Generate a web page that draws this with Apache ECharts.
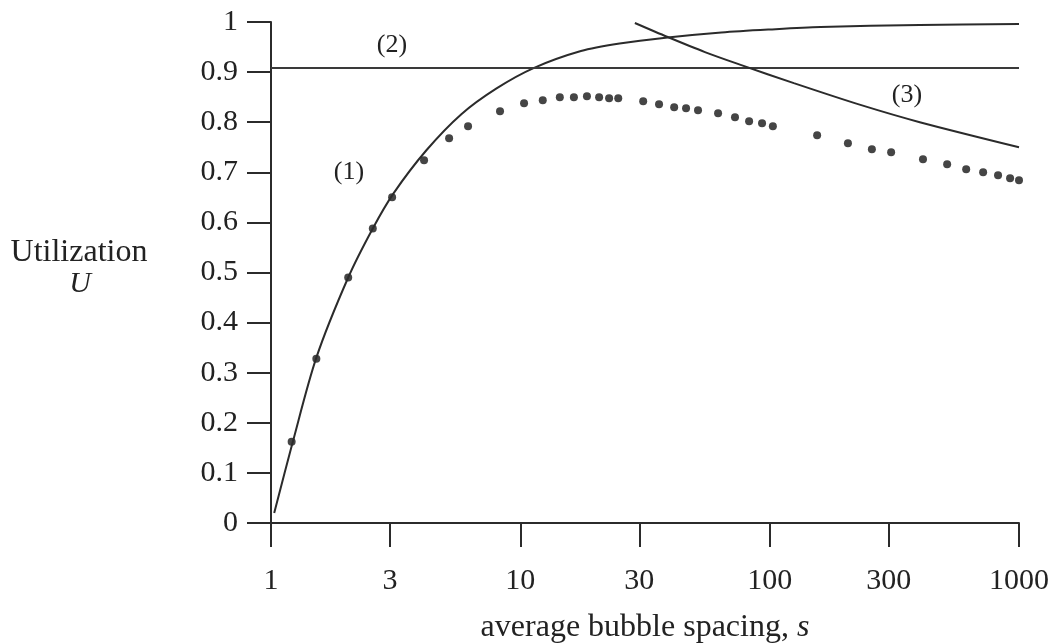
<!DOCTYPE html>
<html>
<head>
<meta charset="utf-8">
<script src="https://cdn.jsdelivr.net/npm/echarts@6/dist/echarts.min.js"></script>
<style>
  html, body { margin: 0; padding: 0; background: #fff; }
  #chart { width: 1055px; height: 644px; }
</style>
</head>
<body>
<div id="chart"></div>
<script>
// tick positions on the log axis
var xTicks = [1, 3, 10, 30, 100, 300, 1000]

// curve (1)
var curve1 = [[1.03, 0.02], [1.22, 0.16], [1.52, 0.33], [2.04, 0.49], [2.56, 0.588], [3.1, 0.658],
  [4.2, 0.744], [5.8, 0.816], [8, 0.867], [11.3, 0.908], [17.5, 0.942], [25, 0.957], [39, 0.969],
  [64, 0.979], [100, 0.985], [160, 0.99], [400, 0.994], [1000, 0.996]]

// line (2)
var line2 = [[1, 0.908], [1000, 0.908]]

// curve (3)
var curve3 = [[28.8, 0.998], [39, 0.97], [55, 0.94], [77, 0.914], [125, 0.878],
  [233, 0.834], [400, 0.8], [1000, 0.75]]

// measured points
var dots = [[1.21, 0.162], [1.52, 0.328], [2.04, 0.49], [2.56, 0.588], [3.06, 0.65], [4.11, 0.724],
  [5.18, 0.768], [6.17, 0.792], [8.29, 0.822], [10.35, 0.838], [12.3, 0.844], [14.4, 0.85],
  [16.4, 0.85], [18.5, 0.852], [20.7, 0.85], [22.7, 0.848], [24.7, 0.848], [31.1, 0.842],
  [36, 0.836], [41.4, 0.83], [46.2, 0.828], [51.6, 0.824], [62.1, 0.818], [72.6, 0.81],
  [82.7, 0.802], [93.2, 0.798], [103, 0.792], [155, 0.774], [206, 0.758], [257, 0.746],
  [307, 0.74], [412, 0.726], [515, 0.716], [614, 0.706], [718, 0.7], [824, 0.694],
  [921, 0.688], [1000, 0.684]]

var serif = '"Liberation Serif", "Times New Roman", serif'
var ink = '#2b2b2b'

var chart = echarts.init(document.getElementById('chart'))

var option = {
  backgroundColor: '#fff',
  animation: false,
  grid: { left: 271, right: 36, top: 22, bottom: 121, outerBoundsMode: 'none', containLabel: false },
  xAxis: {
    type: 'log',
    logBase: 10,
    min: 1,
    max: 1000,
    axisLine: { lineStyle: { color: ink, width: 2 } },
    axisTick: { length: 24, customValues: xTicks, lineStyle: { color: ink, width: 2 } },
    axisLabel: {
      customValues: xTicks, margin: 43, fontSize: 30, fontFamily: serif, color: '#222',
      formatter: function (v) { return String(Math.round(v)) }
    },
    splitLine: { show: false },
    minorTick: { show: false },
    name: 'average bubble spacing, {i|s}',
    nameLocation: 'middle',
    nameGap: 89,
    nameTextStyle: {
      fontSize: 32, fontFamily: serif, color: '#222',
      rich: { i: { fontSize: 32, fontFamily: serif, fontStyle: 'italic', color: '#222' } }
    }
  },
  yAxis: {
    type: 'value',
    min: 0,
    max: 1,
    interval: 0.1,
    axisLine: { show: true, lineStyle: { color: ink, width: 2 } },
    axisTick: { show: true, length: 24, lineStyle: { color: ink, width: 2 } },
    axisLabel: { margin: 33, fontSize: 30, fontFamily: serif, color: '#222' },
    splitLine: { show: false }
  },
  graphic: [
    { type: 'text', x: 79, y: 253, style: { text: 'Utilization', font: '32px ' + serif, fill: '#222', textAlign: 'center', textVerticalAlign: 'middle' } },
    { type: 'text', x: 80, y: 284, style: { text: 'U', font: 'italic 30px ' + serif, fill: '#222', textAlign: 'center', textVerticalAlign: 'middle' } },
    { type: 'text', x: 392, y: 45, style: { text: '(2)', font: '26px ' + serif, fill: '#222', textAlign: 'center', textVerticalAlign: 'middle' } },
    { type: 'text', x: 349, y: 172, style: { text: '(1)', font: '26px ' + serif, fill: '#222', textAlign: 'center', textVerticalAlign: 'middle' } },
    { type: 'text', x: 907, y: 95, style: { text: '(3)', font: '26px ' + serif, fill: '#222', textAlign: 'center', textVerticalAlign: 'middle' } }
  ],
  series: [
    {
      name: '(1)', type: 'line', data: curve1, smooth: 0.3, showSymbol: false,
      lineStyle: { color: ink, width: 2 }
    },
    {
      name: '(2)', type: 'line', data: line2, showSymbol: false,
      lineStyle: { color: '#3a3a3a', width: 2 }
    },
    {
      name: '(3)', type: 'line', data: curve3, smooth: 0.3, showSymbol: false,
      lineStyle: { color: ink, width: 2 }
    },
    {
      name: 'points', type: 'scatter', data: dots, symbolSize: 8,
      itemStyle: { color: '#161616' }
    }
  ]
}

chart.setOption(option)
</script>
</body>
</html>
